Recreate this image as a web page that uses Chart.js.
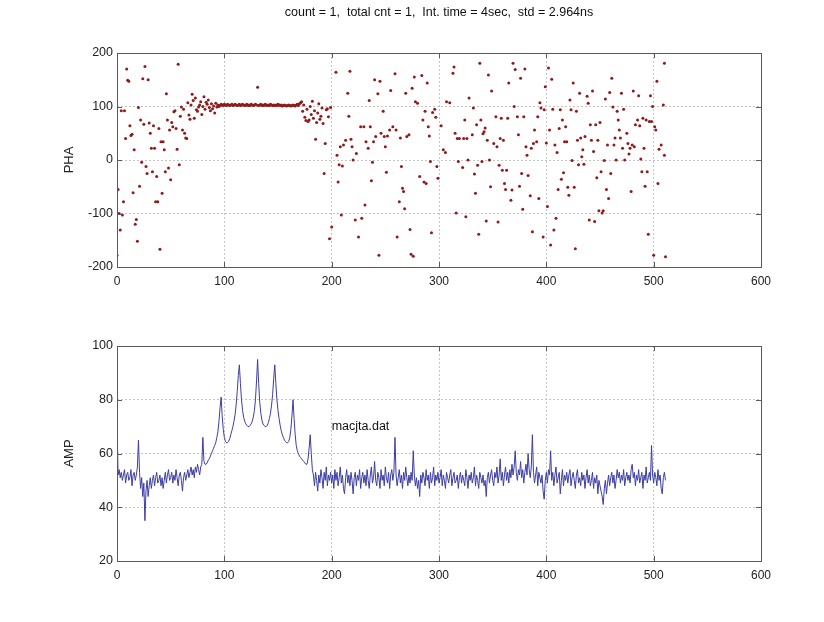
<!DOCTYPE html>
<html>
<head>
<meta charset="utf-8">
<script src="https://cdn.jsdelivr.net/npm/chart.js@4.4.1/dist/chart.umd.min.js"></script>
<style>
    html, body { margin: 0; padding: 0; background: #fff; }
    #wrap { position: relative; width: 824px; height: 622px; }
    canvas { position: absolute; left: 0; }
    #phaChart { top: 0; }
    #ampChart { top: 300px; }
</style>
</head>
<body>
<div id="wrap">
    <canvas id="phaChart" width="824" height="300"></canvas>
    <canvas id="ampChart" width="824" height="322"></canvas>
</div>
<script>
const titleText = 'count = 1,  total cnt = 1,  Int. time = 4sec,  std = 2.964ns'
const noteText = 'macjta.dat'
const xTicks = [0, 100, 200, 300, 400, 500, 600]
const phaTicks = [-200, -100, 0, 100, 200]
const ampTicks = [20, 40, 60, 80, 100]

// PHA samples (index, value)
const phaX = [
    0, 1, 2, 3, 4, 5, 6, 7, 8, 9, 10, 11, 12, 13, 14, 15, 16, 17, 18, 19,
    20, 21, 22, 23, 24, 25, 26, 27, 28, 29, 30, 31, 32, 33, 34, 35, 36, 37, 38, 39,
    40, 41, 42, 43, 44, 45, 46, 47, 48, 49, 50, 51, 52, 53, 54, 55, 56, 57, 58, 59,
    60, 61, 62, 63, 64, 65, 66, 67, 68, 69, 70, 71, 72, 73, 74, 75, 76, 77, 78, 79,
    80, 81, 82, 83, 84, 85, 86, 87, 88, 89, 90, 91, 92, 93, 94, 95, 96, 97, 98, 99,
    100, 101, 102, 103, 104, 105, 106, 107, 108, 109, 110, 111, 112, 113, 114, 115, 116, 117, 118, 119,
    120, 121, 122, 123, 124, 125, 126, 127, 128, 129, 130, 131, 132, 133, 134, 135, 136, 137, 138, 139,
    140, 141, 142, 143, 144, 145, 146, 147, 148, 149, 150, 151, 152, 153, 154, 155, 156, 157, 158, 159,
    160, 161, 162, 163, 164, 165, 166, 167, 168, 169, 170, 171, 172, 173, 174, 175, 176, 177, 178, 179,
    180, 181, 182, 183, 184, 185, 186, 187, 188, 189, 190, 191, 192, 193, 194, 195, 196, 197, 198, 199,
    200, 204, 205, 206, 207, 208, 209, 210, 211, 213, 215, 216, 217, 218, 219, 220, 222, 223, 225, 227,
    228, 230, 231, 232, 234, 235, 236, 237, 238, 239, 240, 241, 243, 244, 245, 246, 248, 249, 250, 251,
    252, 254, 255, 257, 259, 260, 261, 263, 264, 265, 266, 267, 268, 269, 270, 272, 273, 274, 275, 276,
    277, 278, 280, 282, 284, 285, 286, 287, 288, 289, 290, 291, 292, 293, 294, 296, 297, 298, 299, 302,
    304, 306, 307, 310, 313, 314, 315, 316, 317, 318, 319, 322, 323, 324, 325, 326, 327, 328, 331, 332,
    333, 334, 335, 336, 337, 338, 339, 340, 341, 342, 343, 344, 345, 346, 347, 348, 349, 351, 353, 354,
    355, 356, 357, 358, 359, 360, 361, 362, 363, 364, 365, 367, 368, 369, 370, 371, 373, 374, 375, 376,
    377, 378, 379, 380, 381, 382, 383, 385, 386, 387, 388, 389, 391, 392, 393, 394, 395, 397, 398, 399,
    400, 401, 402, 403, 404, 405, 406, 407, 408, 409, 410, 411, 412, 413, 414, 415, 416, 417, 418, 419,
    420, 421, 422, 423, 424, 425, 426, 427, 428, 429, 430, 431, 432, 433, 434, 435, 436, 438, 439, 440,
    441, 442, 443, 444, 445, 446, 447, 448, 449, 450, 451, 452, 453, 454, 455, 456, 457, 458, 459, 460,
    461, 462, 463, 464, 465, 466, 467, 468, 469, 470, 471, 472, 473, 475, 476, 477, 478, 479, 480, 481,
    482, 483, 485, 486, 487, 488, 489, 490, 491, 492, 493, 494, 495, 496, 497, 498, 499, 500, 501, 502,
    503, 504, 505, 507, 509, 510, 510, 511
]
const phaY = [
    -178, -55, -100, -131, 92, -103, -78, 92, 40, 170, 149, 147, 64, 46, 48, -61, 19, -120, -111, -152,
    98, -49, 75, -4, 152, 67, 175, -12, -25, 150, 69, 50, 22, -22, 64, 22, -78, -31, -78, 59,
    -167, 34, -62, 34, 19, -22, 124, 75, -15, 56, -37, 70, 62, 90, 92, 59, 20, 179, -9, 82,
    99, 56, 95, 50, 41, 40, 107, 84, 76, 103, 123, 111, 78, 116, 94, 91, 99, 103, 109, 85,
    100, 118, 95, 108, 104, 112, 98, 92, 105, 96, 101, 88, 106, 99, 103, 100, 102, 104, 103, 102,
    104, 103, 102, 104, 103, 102, 103, 104, 102, 103, 104, 103, 102, 103, 104, 102, 103, 104, 103, 102,
    103, 104, 102, 103, 102, 104, 103, 102, 103, 104, 103, 136, 102, 103, 104, 102, 103, 102, 104, 103,
    102, 103, 102, 104, 103, 102, 103, 102, 103, 102, 104, 103, 102, 103, 101, 102, 103, 102, 101, 102,
    103, 102, 101, 102, 103, 102, 101, 103, 104, 102, 105, 107, 109, 91, 103, 80, 74, 95, 72, 75,
    100, 85, 110, 78, 92, 39, 70, 88, 105, 76, 82, 97, 68, -25, 31, 94, 96, 81, -147, 98,
    -125, 164, 9, -41, -9, 25, -103, -11, 28, 37, 125, 82, 166, 39, 25, 0, -112, 12, -144, 62,
    -109, 62, -84, 34, 22, 111, 62, -39, -4, 34, 150, 44, 124, -178, 147, 50, 91, 44, 25, -23,
    45, 56, 130, 62, 161, 56, -144, -78, 41, -12, -53, -59, -91, 125, 44, 47, -130, -176, 134, -180,
    155, 109, 106, -31, 158, 75, -41, 91, -44, 144, 62, 45, -3, -136, 89, 95, 80, -12, -34, 64,
    19, 14, 109, 107, 162, 174, 50, -99, 40, -3, 40, -14, 40, 75, -106, 40, 0, 116, 47, 97,
    -26, -62, 66, -10, -139, 181, 75, -3, 49, 53, 60, -114, 37, 159, 0, -50, 129, 31, 81, 25,
    -116, -10, 40, 78, -19, 37, -44, -55, -19, 78, 144, -75, -56, 181, 100, 169, 81, 47, -49, 153,
    -25, -92, 81, 170, 25, 9, -29, -67, 22, -134, 31, 56, 34, 81, -72, 107, 97, -144, 94, 137,
    32, -87, 172, 56, -159, 151, 95, -131, 28, -109, 14, -55, 59, 94, -36, 75, -24, 34, 62, 34,
    -51, -66, 112, 94, -1, 144, -51, -166, 91, 37, -9, 125, 41, 6, 19, -8, 44, 119, 106, -112,
    66, 37, 129, 16, -115, 66, -33, 37, -95, 70, -22, -99, -95, -1, 114, -55, 28, -72, 126, -25,
    153, 99, 28, 41, 0, 91, 75, 56, 41, 125, 22, 95, 0, 50, 31, 11, 22, -59, 28, 129,
    25, 66, 75, 120, 64, 2, -22, 78, 22, -49, 75, -22, -139, 72, 120, 72, 100, -178, 62, 56,
    147, -44, 20, 28, 103, 9, 181, -181
]

// AMP trace, one value per sample index 0..511
const ampY = [
    72, 52, 54, 51, 53, 50, 52, 54, 49, 52, 53, 50, 51, 54, 48, 52, 53, 50, 52, 55,
    65, 53, 47, 51, 44, 49, 35, 46, 50, 44, 48, 51, 47, 50, 52, 48, 51, 53, 49, 50,
    52, 48, 51, 47, 50, 53, 49, 52, 54, 50, 51, 53, 49, 52, 50, 54, 51, 48, 52, 53,
    50, 46, 51, 53, 50, 52, 54, 51, 53, 55, 52, 54, 51, 55, 53, 56, 54, 52, 55, 56,
    66, 57, 56, 56, 56.5, 57.5, 58, 59, 60, 61, 62, 63, 64, 66, 68, 72, 77, 81, 74, 69,
    66, 64.5, 64, 64, 64.5, 65.5, 67, 68.5, 70, 72, 74.5, 78, 83, 89, 93, 86, 80, 76, 73.5, 72,
    71, 70.5, 70, 70, 70.5, 71, 72, 73.5, 76, 80, 87, 95, 86, 79, 75, 72.5, 71, 70.5, 70, 70,
    70.5, 71.5, 73, 75, 78, 82, 88, 93, 86, 80, 76, 73, 70.5, 68.5, 67, 66, 65, 64.5, 64, 64,
    64.5, 66, 69, 74, 80, 73, 67, 63, 61, 60, 59, 58.5, 58, 57.5, 57, 56.5, 56, 56, 58, 62,
    67, 60, 54, 52, 48, 53, 50, 46, 52, 49, 54, 51, 47, 53, 50, 55, 48, 52, 50, 53,
    49, 52, 47, 54, 50, 53, 48, 51, 55, 49, 52, 47, 45, 51, 54, 49, 52, 48, 53, 50,
    45, 51, 53, 48, 52, 50, 54, 47, 51, 53, 49, 52, 48, 54, 50, 47, 52, 55, 49, 51,
    57, 50, 48, 53, 51, 47, 54, 50, 52, 48, 55, 51, 49, 53, 47, 52, 54, 50, 53, 66,
    52, 48, 51, 54, 49, 52, 47, 53, 50, 55, 51, 48, 52, 49, 53, 50, 61, 52, 48, 51,
    47, 50, 44, 52, 49, 53, 51, 48, 54, 50, 52, 47, 53, 49, 51, 55, 48, 52, 50, 53,
    49, 51, 54, 48, 52, 50, 47, 53, 51, 49, 52, 54, 48, 51, 53, 49, 50, 52, 47, 51,
    53, 49, 52, 50, 48, 54, 51, 47, 52, 50, 53, 49, 51, 55, 48, 52, 50, 47, 53, 51,
    49, 52, 48, 50, 44, 51, 53, 49, 52, 54, 50, 48, 53, 51, 55, 49, 52, 58, 50, 53,
    48, 52, 55, 50, 53, 49, 54, 51, 56, 52, 55, 61, 53, 50, 54, 52, 57, 51, 54, 49,
    53, 56, 52, 60, 54, 51, 55, 67, 53, 49, 52, 55, 48, 53, 51, 49, 52, 46, 43, 50,
    53, 49, 54, 52, 61, 50, 53, 48, 52, 55, 49, 51, 53, 45, 50, 54, 48, 52, 50, 53,
    49, 52, 54, 48, 51, 53, 50, 47, 52, 54, 49, 51, 48, 53, 50, 52, 47, 51, 54, 49,
    52, 48, 50, 53, 47, 51, 49, 52, 45, 50, 48, 46, 44, 41, 47, 50, 45, 49, 52, 48,
    51, 53, 49, 52, 47, 50, 54, 51, 53, 49, 52, 50, 54, 48, 51, 53, 50, 52, 49, 54,
    56, 51, 53, 48, 52, 50, 54, 49, 51, 53, 47, 52, 50, 55, 49, 51, 53, 50, 63, 52,
    49, 53, 51, 48, 54, 50, 52, 47, 45, 51, 53, 50
]

const FONT = '"Liberation Sans", Arial, sans-serif'

// MATLAB-like axes box with inward tick marks on all four sides
const boxPlugin = {
    id: 'box',
    afterDraw(chart) {
        const { ctx, chartArea: a, scales } = chart
        ctx.save()
        ctx.strokeStyle = '#5a5a5a'
        ctx.lineWidth = 1
        ctx.strokeRect(a.left + 0.5, a.top + 0.5, a.right - a.left, a.bottom - a.top)
        ctx.beginPath()
        scales.x.ticks.forEach(t => {
            const px = Math.round(scales.x.getPixelForValue(t.value)) + 0.5
            ctx.moveTo(px, a.bottom); ctx.lineTo(px, a.bottom - 5)
            ctx.moveTo(px, a.top); ctx.lineTo(px, a.top + 5)
        })
        scales.y.ticks.forEach(t => {
            const py = Math.round(scales.y.getPixelForValue(t.value)) + 0.5
            ctx.moveTo(a.left, py); ctx.lineTo(a.left + 5, py)
            ctx.moveTo(a.right, py); ctx.lineTo(a.right - 5, py)
        })
        ctx.stroke()
        ctx.restore()
    }
}

function axesOptions(yMin, yMax, yTicks, yTitle, padTop, padBottom) {
    return {
        responsive: false,
        animation: false,
        layout: { padding: { top: padTop, right: 63, bottom: padBottom, left: 0 } },
        plugins: { legend: { display: false }, tooltip: { enabled: false } },
        scales: {
            x: {
                type: 'linear', min: 0, max: 600,
                afterBuildTicks: s => { s.ticks = xTicks.map(v => ({ value: v })) },
                afterFit: s => { s.height = 33 },
                ticks: { color: '#222', font: { family: FONT, size: 12 }, padding: 7, maxRotation: 0 },
                grid: { color: '#c4c4c4', drawTicks: false },
                border: { display: false, dash: [2, 2] }
            },
            y: {
                type: 'linear', min: yMin, max: yMax,
                afterBuildTicks: s => { s.ticks = yTicks.map(v => ({ value: v })) },
                afterFit: s => { s.width = 117 },
                ticks: { color: '#222', font: { family: FONT, size: 12.5 }, padding: 4 },
                grid: { color: '#c4c4c4', drawTicks: false },
                border: { display: false, dash: [2, 2] },
                title: { display: true, text: yTitle, color: '#222', font: { family: FONT, size: 13 }, padding: { top: 62, bottom: 0 } }
            }
        }
    }
}

// Upper plot: PHA scatter
new Chart(document.getElementById('phaChart').getContext('2d'), {
    type: 'scatter',
    data: {
        datasets: [{
            data: phaX.map((x, i) => ({ x: x, y: phaY[i] })),
            pointRadius: 1.5,
            pointBorderWidth: 0,
            pointBackgroundColor: '#901a1a'
        }]
    },
    options: axesOptions(-200, 200, phaTicks, 'PHA', 53, 0),
    plugins: [boxPlugin, {
        id: 'topTitle',
        afterDraw(chart) {
            const { ctx, chartArea: a } = chart
            ctx.save()
            ctx.fillStyle = '#111'
            ctx.font = '12.5px ' + FONT
            ctx.textAlign = 'center'
            ctx.textBaseline = 'middle'
            ctx.fillText(titleText, (a.left + a.right) / 2, 13)
            ctx.restore()
        }
    }]
})

// Lower plot: AMP trace
new Chart(document.getElementById('ampChart').getContext('2d'), {
    type: 'line',
    data: {
        datasets: [{
            data: ampY.map((y, i) => ({ x: i, y: y })),
            borderColor: '#3d3da3',
            borderWidth: 1,
            pointRadius: 0,
            tension: 0
        }]
    },
    options: axesOptions(20, 100, ampTicks, 'AMP', 46, 28),
    plugins: [boxPlugin, {
        id: 'note',
        afterDraw(chart) {
            const { ctx, scales } = chart
            ctx.save()
            ctx.fillStyle = '#111'
            ctx.font = '12.5px ' + FONT
            ctx.textAlign = 'left'
            ctx.textBaseline = 'middle'
            ctx.fillText(noteText, scales.x.getPixelForValue(200), scales.y.getPixelForValue(70))
            ctx.restore()
        }
    }]
})
</script>
</body>
</html>
